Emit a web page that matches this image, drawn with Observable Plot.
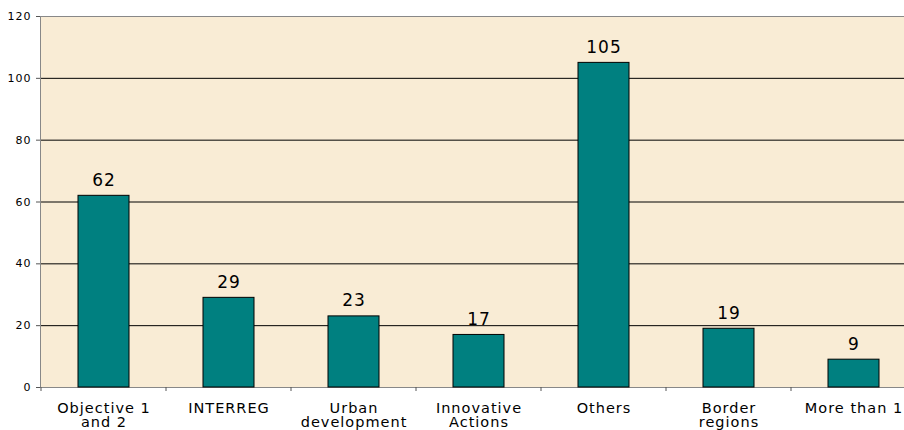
<!DOCTYPE html>
<html>
<head>
<meta charset="utf-8">
<script src="https://cdn.jsdelivr.net/npm/d3@7"></script>
<script src="https://cdn.jsdelivr.net/npm/@observablehq/plot@0.6"></script>
<style>
  html, body { margin: 0; padding: 0; background: #ffffff; overflow: hidden; }
  #chart { width: 904px; height: 430px; }
</style>
</head>
<body>
<div id="chart"></div>
<script>
const categories = ["Objective 1\nand 2", "INTERREG", "Urban\ndevelopment", "Innovative\nActions", "Others", "Border\nregions", "More than 1"];
const values = [62, 29, 23, 17, 105, 19, 9];
const yTicks = [0, 20, 40, 60, 80, 100, 120];

const data = categories.map((c, i) => ({category: c, value: values[i]}));
const bg = "#F9ECD5";
const font = "'DejaVu Sans', Verdana, sans-serif";

// ticks at the boundaries between category bands, positioned by Plot's x scale
function boundaryTicks(index, scales, values, dimensions) {
  const x = scales.x;
  const y0 = dimensions.height - dimensions.marginBottom;
  const starts = categories.map(c => x(c));
  const step = starts[1] - starts[0];
  const bw = x.bandwidth ? x.bandwidth() : 0;
  const g = d3.create("svg:g");
  const bounds = starts.map(s => s + bw / 2 - step / 2);
  bounds.push(starts[starts.length - 1] + bw / 2 + step / 2);
  g.selectAll("line").data(bounds).join("line")
    .attr("x1", d => d).attr("x2", d => d)
    .attr("y1", y0).attr("y2", y0 + 4)
    .attr("stroke", "#555").attr("stroke-width", 1);
  return g.node();
}

const chart = Plot.plot({
  width: 904,
  height: 430,
  marginTop: 16,
  marginBottom: 43,
  marginLeft: 40,
  marginRight: 0,
  style: {fontFamily: font, color: "#000", background: "transparent", overflow: "visible"},
  x: {domain: categories, range: [40, 918], paddingInner: 0.59, paddingOuter: 0.295, align: 0.5},
  y: {domain: [0, 120]},
  marks: [
    Plot.frame({fill: bg, stroke: "none"}),
    Plot.ruleY(yTicks.filter(d => d > 0 && d < 120), {stroke: "#000", strokeWidth: 1}),
    Plot.ruleY([120], {stroke: "#888", strokeWidth: 1}),
    Plot.ruleY([0], {stroke: "#888", strokeWidth: 1}),
    Plot.frame({anchor: "left", stroke: "#888"}),
    Plot.barY(data, {x: "category", y: "value", fill: "#008080", stroke: "#000", strokeWidth: 1}),
    Plot.text(data, {x: "category", y: "value", text: d => String(d.value), dy: -10, lineAnchor: "bottom", fontSize: 17, fill: "#000"}),
    Plot.axisY({ticks: yTicks, tickSize: 4, tickPadding: 5, fontSize: 11, stroke: "#555", fill: "#000", label: null}),
    Plot.axisX({tickSize: 0, tickPadding: 15, fontSize: 14.5, lineHeight: 0.97, fill: "#000", label: null}),
    boundaryTicks
  ]
});
chart.querySelectorAll("text").forEach(t => { t.style.letterSpacing = "1px"; });
document.getElementById("chart").appendChild(chart);
</script>
</body>
</html>
